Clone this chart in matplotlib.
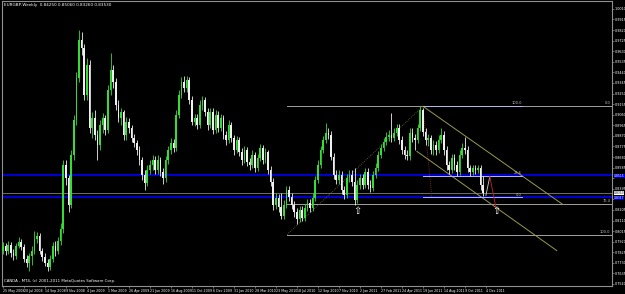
import matplotlib
matplotlib.use('Agg')
import matplotlib.pyplot as plt
import numpy as np

# EURGBP weekly, 25 May 2008 .. Dec 2011
first_open = 0.7840
closes = [
    0.7885, 0.7840, 0.7894, 0.7822, 0.7795, 0.7885, 0.7921, 0.7876, 0.7768, 0.7732,
    0.7795, 0.7840, 0.7948, 0.7975, 0.7840, 0.7786, 0.7732, 0.7696, 0.7768, 0.7885,
    0.7840, 0.7930, 0.8038, 0.8605, 0.8488, 0.8245, 0.8695, 0.9010, 0.9388, 0.9730,
    0.9658, 0.9235, 0.9505, 0.8938, 0.9028, 0.8875, 0.8785, 0.8965, 0.9028, 0.8920,
    0.9280, 0.9460, 0.9352, 0.9145, 0.9028, 0.9082, 0.8875, 0.8992, 0.8938, 0.8848,
    0.8803, 0.8740, 0.8650, 0.8515, 0.8443, 0.8560, 0.8605, 0.8650, 0.8560, 0.8650,
    0.8542, 0.8488, 0.8650, 0.8740, 0.8803, 0.8758, 0.9055, 0.9235, 0.9352, 0.9298,
    0.9370, 0.9190, 0.8992, 0.9028, 0.8965, 0.9145, 0.9190, 0.9082, 0.8965, 0.9082,
    0.8920, 0.9055, 0.8938, 0.9028, 0.8875, 0.8830, 0.8965, 0.8848, 0.8740, 0.8830,
    0.8722, 0.8650, 0.8740, 0.8632, 0.8605, 0.8695, 0.8578, 0.8668, 0.8758, 0.8650,
    0.8722, 0.8560, 0.8452, 0.8245, 0.8308, 0.8227, 0.8155, 0.8245, 0.8380, 0.8317,
    0.8245, 0.8182, 0.8128, 0.8200, 0.8137, 0.8218, 0.8263, 0.8218, 0.8308, 0.8470,
    0.8605, 0.8740, 0.8830, 0.8893, 0.8875, 0.8677, 0.8515, 0.8470, 0.8515, 0.8380,
    0.8335, 0.8488, 0.8515, 0.8452, 0.8290, 0.8425, 0.8488, 0.8425, 0.8542, 0.8425,
    0.8398, 0.8515, 0.8578, 0.8695, 0.8758, 0.8812, 0.8857, 0.8875, 0.8848, 0.8893,
    0.8938, 0.8830, 0.8740, 0.8695, 0.8686, 0.8893, 0.8848, 0.8830, 0.8938, 0.9100,
    0.8902, 0.8830, 0.8848, 0.8740, 0.8785, 0.8740, 0.8830, 0.8875, 0.8740, 0.8605,
    0.8560, 0.8668, 0.8605, 0.8542, 0.8695, 0.8758, 0.8740, 0.8578, 0.8542, 0.8578,
    0.8560, 0.8578, 0.8425, 0.8353,
]
highs = [
    0.7921, 0.7912, 0.7930, 0.7921, 0.7858, 0.7912, 0.7966, 0.7948, 0.7903, 0.7804,
    0.7822, 0.7885, 0.8020, 0.8011, 0.8002, 0.7867, 0.7822, 0.7768, 0.7804, 0.7921,
    0.7930, 0.7966, 0.8092, 0.8650, 0.8650, 0.8515, 0.8740, 0.9055, 0.9442, 0.9820,
    0.9802, 0.9694, 0.9568, 0.9550, 0.9082, 0.9100, 0.8920, 0.9010, 0.9073, 0.9055,
    0.9325, 0.9613, 0.9505, 0.9388, 0.9190, 0.9118, 0.9100, 0.9037, 0.9028, 0.8965,
    0.8884, 0.8830, 0.8776, 0.8677, 0.8560, 0.8605, 0.8650, 0.8695, 0.8686, 0.8695,
    0.8677, 0.8578, 0.8686, 0.8776, 0.8848, 0.8839, 0.9100, 0.9280, 0.9397, 0.9406,
    0.9406, 0.9397, 0.9226, 0.9064, 0.9064, 0.9190, 0.9226, 0.9217, 0.9118, 0.9118,
    0.9118, 0.9100, 0.9091, 0.9064, 0.9055, 0.8911, 0.9010, 0.8992, 0.8875, 0.8866,
    0.8857, 0.8758, 0.8776, 0.8767, 0.8668, 0.8740, 0.8722, 0.8704, 0.8794, 0.8785,
    0.8758, 0.8740, 0.8596, 0.8488, 0.8353, 0.8344, 0.8353, 0.8290, 0.8416, 0.8416,
    0.8353, 0.8281, 0.8218, 0.8236, 0.8236, 0.8254, 0.8299, 0.8299, 0.8353, 0.8506,
    0.8650, 0.8776, 0.8866, 0.8983, 0.8938, 0.8911, 0.8713, 0.8560, 0.8560, 0.8551,
    0.8416, 0.8524, 0.8560, 0.8560, 0.8578, 0.8470, 0.8524, 0.8524, 0.8578, 0.8578,
    0.8470, 0.8551, 0.8623, 0.8731, 0.8794, 0.8848, 0.8902, 0.8920, 0.9073, 0.8938,
    0.8974, 0.8974, 0.8866, 0.8776, 0.8740, 0.8938, 0.8938, 0.8884, 0.8974, 0.9136,
    0.9118, 0.8938, 0.8884, 0.8875, 0.8830, 0.8821, 0.8875, 0.8938, 0.8911, 0.8776,
    0.8641, 0.8704, 0.8704, 0.8641, 0.8740, 0.8803, 0.8857, 0.8776, 0.8605, 0.8605,
    0.8605, 0.8605, 0.8605, 0.8506,
]
lows = [
    0.7813, 0.7804, 0.7813, 0.7786, 0.7759, 0.7768, 0.7867, 0.7849, 0.7741, 0.7696,
    0.7660, 0.7714, 0.7813, 0.7912, 0.7813, 0.7750, 0.7705, 0.7660, 0.7669, 0.7741,
    0.7795, 0.7813, 0.7894, 0.8002, 0.8425, 0.8182, 0.8218, 0.8650, 0.8965, 0.9352,
    0.9595, 0.9190, 0.9190, 0.8893, 0.8848, 0.8830, 0.8650, 0.8740, 0.8893, 0.8875,
    0.8893, 0.9235, 0.9298, 0.9100, 0.8992, 0.8965, 0.8830, 0.8830, 0.8893, 0.8812,
    0.8767, 0.8695, 0.8605, 0.8470, 0.8380, 0.8416, 0.8524, 0.8560, 0.8524, 0.8524,
    0.8506, 0.8434, 0.8452, 0.8614, 0.8704, 0.8722, 0.8731, 0.9028, 0.9208, 0.9262,
    0.9262, 0.9154, 0.8965, 0.8956, 0.8929, 0.8938, 0.9100, 0.9046, 0.8920, 0.8938,
    0.8884, 0.8893, 0.8902, 0.8911, 0.8839, 0.8785, 0.8803, 0.8812, 0.8695, 0.8713,
    0.8686, 0.8605, 0.8623, 0.8596, 0.8560, 0.8578, 0.8542, 0.8551, 0.8641, 0.8614,
    0.8623, 0.8524, 0.8416, 0.8200, 0.8209, 0.8182, 0.8128, 0.8128, 0.8218, 0.8281,
    0.8209, 0.8146, 0.8083, 0.8101, 0.8110, 0.8110, 0.8191, 0.8182, 0.8191, 0.8281,
    0.8443, 0.8578, 0.8713, 0.8803, 0.8839, 0.8650, 0.8479, 0.8434, 0.8434, 0.8344,
    0.8299, 0.8308, 0.8452, 0.8416, 0.8245, 0.8263, 0.8389, 0.8389, 0.8398, 0.8389,
    0.8362, 0.8371, 0.8488, 0.8551, 0.8668, 0.8731, 0.8785, 0.8821, 0.8812, 0.8821,
    0.8866, 0.8794, 0.8704, 0.8659, 0.8650, 0.8650, 0.8812, 0.8740, 0.8803, 0.8911,
    0.8866, 0.8785, 0.8776, 0.8704, 0.8695, 0.8695, 0.8713, 0.8803, 0.8695, 0.8560,
    0.8524, 0.8533, 0.8560, 0.8506, 0.8515, 0.8668, 0.8704, 0.8542, 0.8506, 0.8515,
    0.8524, 0.8533, 0.8380, 0.8326,
]
opens = [first_open] + closes[:-1]

date_labels = ['25 May 2008', '20 Jul 2008', '14 Sep 2008', '9 Nov 2008', '4 Jan 2009',
               '1 Mar 2009', '26 Apr 2009', '21 Jun 2009', '16 Aug 2009', '11 Oct 2009',
               '6 Dec 2009', '31 Jan 2010', '28 Mar 2010', '23 May 2010', '18 Jul 2010',
               '12 Sep 2010', '7 Nov 2010', '2 Jan 2011', '27 Feb 2011', '24 Apr 2011',
               '19 Jun 2011', '14 Aug 2011', '9 Oct 2011', '4 Dec 2011']
date_step = 8

# drawn objects (bar index, price)
blue_levels = [0.8515, 0.8317]
fib1_from = (108.2, 0.7984)   # 2010 low
fib1_to = (160.0, 0.9136)     # 2011 high
fib1_ratios = [0.0, 0.764, 1.0]
fib1_names = ['0.0', '76.4', '100.0']
fib2_from = (160.0, 0.9136)
fib2_to = (163.4, 0.8317)
fib2_end = 197.7
fib2_ratios = [1.0, 0.236, 0.0]
fib2_names = ['100.0', '23.6', '0.0']
chan_upper = ([160.0, 213.3], [0.9136, 0.8254])
chan_lower = ([157.7, 211.0], [0.8731, 0.7840])
zig_white = ([184.0, 185.5], [0.8335, 0.8506])
zig_red = ([185.5, 187.8], [0.8506, 0.8227])
arrows = [(135.2, 0.8236), (187.8, 0.8236)]

fig = plt.figure(figsize=(6.25, 2.94), dpi=100, facecolor='black')
ax = fig.add_axes([0.003, 0.0272, 0.976, 0.9694], facecolor='black')

n = len(closes)
bull = '#33dd33'
bear = '#f0f0f0'
for i in range(n):
    o, c = opens[i], closes[i]
    col = bull if c >= o else bear
    ax.vlines(i, lows[i], highs[i], color=col, lw=0.6, zorder=3)
    h = max(abs(c - o), 0.0004)
    ax.bar(i, h, bottom=min(o, c), width=0.62, color=col, lw=0, zorder=4)

# horizontal blue lines
for lv in blue_levels:
    ax.axhline(lv, color='#0000cd', lw=1.5, zorder=2)
    ax.annotate(f'{lv:.4f}', xy=(1.003, lv - 0.0004), xycoords=('axes fraction', 'data'),
                fontsize=2.2, color='white', va='center', ha='left', annotation_clip=False,
                bbox=dict(boxstyle='square,pad=0.05', fc='#0000cd', ec='none'))

# bid line
bid = closes[-1]
ax.axhline(bid, color='#808080', lw=0.6, zorder=2)
ax.annotate(f'{bid:.4f}', xy=(1.003, bid + 0.0006), xycoords=('axes fraction', 'data'),
            fontsize=2.2, color='black', va='center', ha='left', annotation_clip=False,
            bbox=dict(boxstyle='square,pad=0.05', fc='white', ec='none'))

# fibonacci 1 (2010 low -> 2011 high)
xmax = 232
lo, hi = fib1_from[1], fib1_to[1]
for r, name in zip(fib1_ratios, fib1_names):
    lv = hi - r * (hi - lo)
    ax.plot([fib1_from[0], xmax], [lv, lv], color='#a0a0a0', lw=0.7, zorder=2)
    ax.text(xmax - 0.5, lv + 0.0008, name, fontsize=2.6, color='#c0c0c0', ha='right', va='bottom')
ax.plot([fib1_from[0], fib1_to[0]], [fib1_from[1], fib1_to[1]], color='#707040',
        lw=0.6, ls=(0, (1, 1.5)), zorder=2)

# fibonacci 2
a, b = fib2_from[1], fib2_to[1]
for r, name in zip(fib2_ratios, fib2_names):
    lv = b + r * (a - b)
    ax.plot([fib2_from[0], fib2_end], [lv, lv], color='#b8b8f0', lw=0.7, zorder=2.5)
    ax.text(fib2_end, lv + 0.0008, name, fontsize=2.6, color='#c0c0c0', ha='right', va='bottom')
ax.plot([fib2_from[0], fib2_to[0]], [fib2_from[1], fib2_to[1]], color='#a03030',
        lw=0.6, ls=(0, (1, 1.5)), zorder=2)

# channel
ax.plot(*chan_upper, color='#9a9a50', lw=0.7, zorder=2)
ax.plot(*chan_lower, color='#9a9a50', lw=0.7, zorder=2)

ax.plot(*zig_white, color='#d0d0d0', lw=0.6, zorder=5)
ax.plot(*zig_red, color='#b02020', lw=0.7, zorder=5)

for ax_x, ay in arrows:
    ax.text(ax_x, ay, '\u21e7', fontsize=7, color='white', ha='center', va='top',
            family='DejaVu Sans', zorder=6)

ax.set_xlim(-0.4, xmax)
ax.set_ylim(0.7522, 1.0081)

# axes styling
for s in ax.spines.values():
    s.set_color('#909090')
    s.set_linewidth(0.8)
ax.yaxis.tick_right()
yt = np.arange(0.7540, 1.005, 0.0095)
boxed = blue_levels + [bid]
ax.set_yticks(yt)
# price labels hidden behind the boxed line labels, as in the terminal
ax.set_yticklabels(['' if min(abs(v - q) for q in boxed) < 0.003 else f'{v:.4f}' for v in yt])
ax.set_xticks(np.arange(len(date_labels)) * date_step)
ax.set_xticklabels(date_labels, ha='left')
ax.tick_params(axis='y', colors='#909090', labelcolor='white', labelsize=2.4, length=1.5, width=0.5, pad=0.6)
ax.tick_params(axis='x', colors='#909090', labelcolor='white', labelsize=2.3, length=1.5, width=0.5, pad=0.5)

ax.text(0.003, 0.993, 'EURGBP,Weekly  %.5f %.5f %.5f %.5f' % (opens[-1], highs[-1], lows[-1], closes[-1]),
        transform=ax.transAxes, fontsize=3.0, color='white', ha='left', va='top')
ax.text(0.003, 0.012, 'CANDA - MT4, (c) 2001-2011 MetaQuotes Software Corp.',
        transform=ax.transAxes, fontsize=2.8, color='white', ha='left', va='bottom')

fig.savefig('out.png', dpi=100, facecolor='black')
